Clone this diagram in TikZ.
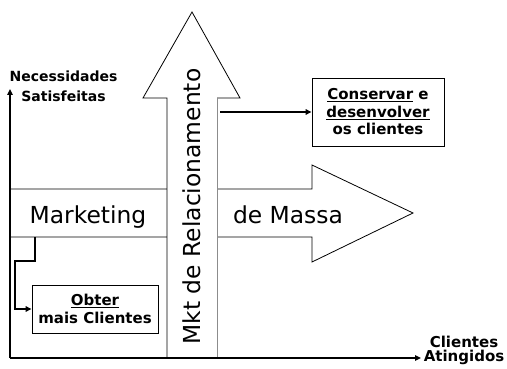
\documentclass[tikz,border=0pt]{standalone}
\usepackage{fontspec}
\setmainfont{DejaVu Sans}
\usetikzlibrary{arrows.meta}
% underlined word with a heavier rule
\newcommand{\ulword}[1]{\setbox0\hbox{#1}\rlap{\rule[-2.4pt]{\wd0}{1.3pt}}\box0\relax}
\begin{document}
\begin{tikzpicture}[x=1pt,y=-1pt,
  axis/.style={line width=1.7pt,-{Triangle[length=6pt,width=5.5pt]}},
  link/.style={line width=1.6pt,-{Triangle[length=6pt,width=5.5pt]}},
  bigarrow/.style={draw=black,line width=0.8pt,line join=miter},
  boxlabel/.style={draw=black,line width=0.9pt,fill=white,
    font=\fontsize{15}{17.5}\selectfont\bfseries,align=center,inner sep=0pt},
  axislabel/.style={font=\bfseries,align=center,inner sep=0pt},
  bigtext/.style={font=\fontsize{23.4}{28}\selectfont,inner sep=0pt}]
\useasboundingbox (0,0) rectangle (507,369);

% axes
\coordinate (origin) at (10,358);
\coordinate (ytip) at (10,89);
\coordinate (xtip) at (421,358);

% mass marketing arrow (horizontal)
\fill[white] (10,189) -- (312,189) -- (312,165) -- (413,213) -- (312,262) -- (312,237) -- (10,237) -- cycle;
\draw[bigarrow] (10,189) -- (312,189) -- (312,165) -- (413,213) -- (312,262) -- (312,237) -- (10,237);

% relationship marketing arrow (vertical), drawn on top
\fill[white] (167,358) -- (167,98) -- (143,98) -- (192,12) -- (240,98) -- (217,98) -- (217,358) -- cycle;
\draw[bigarrow] (167,358) -- (167,98) -- (143,98) -- (192,12) -- (240,98) -- (217,98);
\draw[black!45,line width=0.8pt] (217,98) -- (217,358);

\draw[axis] (origin) -- (ytip);
\draw[axis] (origin) -- (xtip);

\node[axislabel,font=\fontsize{14}{20}\selectfont\bfseries] (needs) at (63.5,86.5) {Necessidades\\Satisfeitas};
\node[axislabel,font=\fontsize{15}{14}\selectfont\bfseries] (reach) at (464,350.5) {Clientes\\Atingidos};

\node[bigtext,anchor=base] (mkt) at (88,223) {Marketing};
\node[bigtext,anchor=base] (massa) at (288,223) {de Massa};
\node[bigtext,anchor=base,rotate=90] (rel) at (200,206.5) {Mkt de Relacionamento};

\node[boxlabel,minimum width=132pt,minimum height=68pt] (keep) at (378,112)
  {\ulword{Conservar} e\\\ulword{desenvolver}\\os clientes};
\node[boxlabel,minimum width=126pt,minimum height=48pt] (gain) at (95,309)
  {\ulword{Obter}\\mais Clientes};

% connectors
\coordinate (relout) at (220,112);
\draw[link] (relout) -- (keep.west);
\coordinate (mktout) at (35,237);
\draw[link] (mktout) -- (35,261) -- (15,261) |- (gain.west);
\end{tikzpicture}
\end{document}
